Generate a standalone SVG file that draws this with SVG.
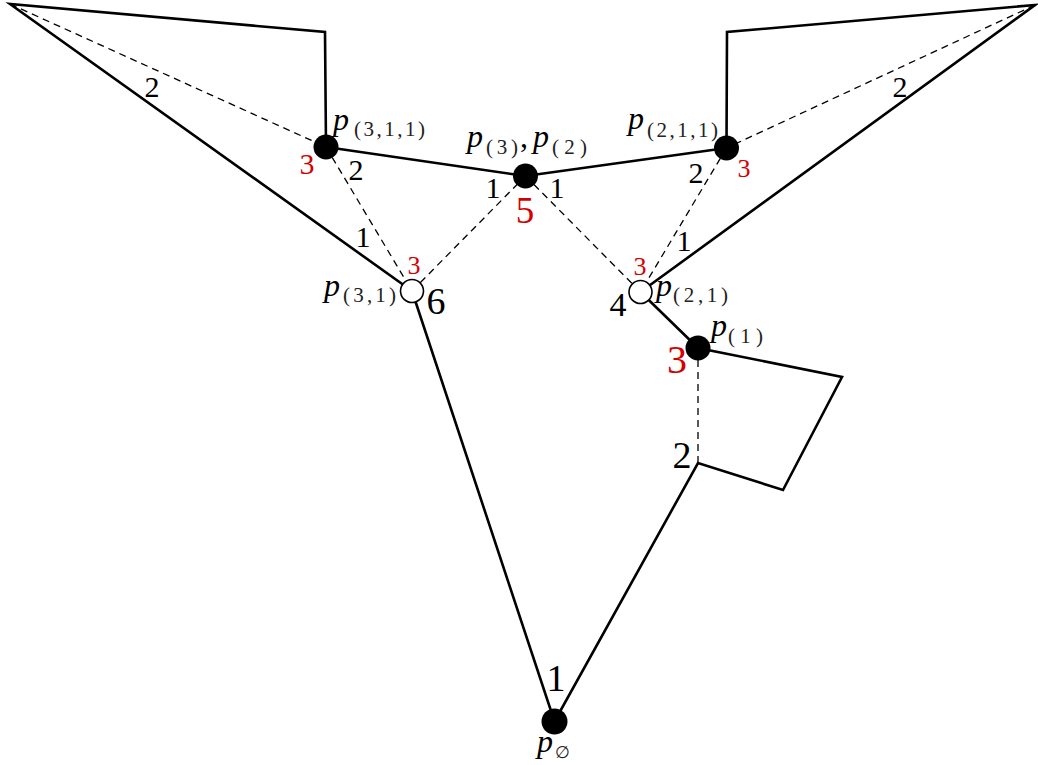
<svg xmlns="http://www.w3.org/2000/svg" width="1038" height="765" viewBox="0 0 1038 765" font-family="'Liberation Serif', 'DejaVu Serif', serif">
<style>
.s{fill:none;stroke:#000;stroke-width:2.6;stroke-linejoin:miter}
.d{fill:none;stroke:#000;stroke-width:1.3;stroke-dasharray:7 5}
.full{fill:#000}
.open{fill:#fff;stroke:#000;stroke-width:1.6}
.p{font-style:italic;font-size:32px;fill:#000}
.sub{font-size:21px;fill:#222}
.n{font-size:30px;fill:#000;text-anchor:middle}
.big{font-size:38px}
.r{fill:#d40000}
.rs{font-size:26px}
</style>
<rect width="1038" height="765" fill="#fff"/>
<g id="connectors">
<polyline class="s" points="326,147 325,32 10,4 412,291"/>
<polyline class="s" points="326,147 525.5,176 726.5,148"/>
<polyline class="s" points="726.5,148 727,32 1035,5 640.5,292"/>
<polyline class="s" points="640.5,292 698,348 842,377 783,490 698,463 554.5,721.5 412,291"/>
<line class="d" x1="10" y1="4" x2="326" y2="147"/>
<line class="d" x1="1035" y1="5" x2="726.5" y2="148"/>
<line class="d" x1="326" y1="147" x2="412" y2="291"/>
<line class="d" x1="412" y1="291" x2="525.5" y2="176"/>
<line class="d" x1="525.5" y1="176" x2="640.5" y2="292"/>
<line class="d" x1="726.5" y1="148" x2="640.5" y2="292"/>
<line class="d" x1="698" y1="348" x2="698" y2="463"/>
<text class="n" x="152" y="97">2</text>
<text class="n" x="900" y="97">2</text>
<text class="n" x="356" y="180">2</text>
<text class="n" x="363" y="247">1</text>
<text class="n" x="493" y="198">1</text>
<text class="n" x="557" y="198">1</text>
<text class="n" x="696" y="183">2</text>
<text class="n" x="684" y="251">1</text>
<text class="n big" x="682" y="468">2</text>
<text class="n big" x="556" y="691">1</text>
</g>
<g id="node-p311">
<circle class="full" cx="326" cy="147" r="12.5"/>
<text class="p" x="333" y="130">p</text>
<text class="sub" x="354" y="136" textLength="71" lengthAdjust="spacing">(3,1,1)</text>
<text class="n r" x="307" y="174">3</text>
</g>
<g id="node-p3-p2">
<circle class="full" cx="525.5" cy="176" r="12.5"/>
<text class="p" x="467" y="147">p</text>
<text class="sub" x="486" y="154" textLength="32" lengthAdjust="spacing">(3)</text>
<text class="p" x="520" y="147" style="font-style:normal">,</text>
<text class="p" x="533" y="147">p</text>
<text class="sub" x="552" y="154" textLength="35" lengthAdjust="spacing">(2)</text>
<text class="n r" x="525" y="223" style="font-size:37px">5</text>
</g>
<g id="node-p211">
<circle class="full" cx="726.5" cy="148" r="12.5"/>
<text class="p" x="628" y="129">p</text>
<text class="sub" x="647" y="137" textLength="71" lengthAdjust="spacing">(2,1,1)</text>
<text class="n r rs" x="744" y="177">3</text>
</g>
<g id="node-p31">
<circle class="open" cx="412" cy="291" r="11.5"/>
<text class="p" x="324" y="296">p</text>
<text class="sub" x="343" y="302" textLength="53" lengthAdjust="spacing">(3,1)</text>
<text class="n r rs" x="414" y="274">3</text>
<text class="n big" x="436" y="314">6</text>
</g>
<g id="node-p21">
<circle class="open" cx="640.5" cy="292" r="11.5"/>
<text class="p" x="656" y="296">p</text>
<text class="sub" x="673" y="302" textLength="55" lengthAdjust="spacing">(2,1)</text>
<text class="n r rs" x="640" y="275">3</text>
<text class="n" x="618" y="316" style="font-size:34px">4</text>
</g>
<g id="node-p1">
<circle class="full" cx="698" cy="348" r="12.5"/>
<text class="p" x="711" y="336">p</text>
<text class="sub" x="728" y="343" textLength="35" lengthAdjust="spacing">(1)</text>
<text class="n r" x="677" y="373" style="font-size:40px">3</text>
</g>
<g id="node-pempty">
<circle class="full" cx="554.5" cy="721.5" r="13"/>
<text class="p" x="537" y="752">p</text>
<text class="sub" x="555" y="758" style="font-size:17px">∅</text>
</g>
</svg>
